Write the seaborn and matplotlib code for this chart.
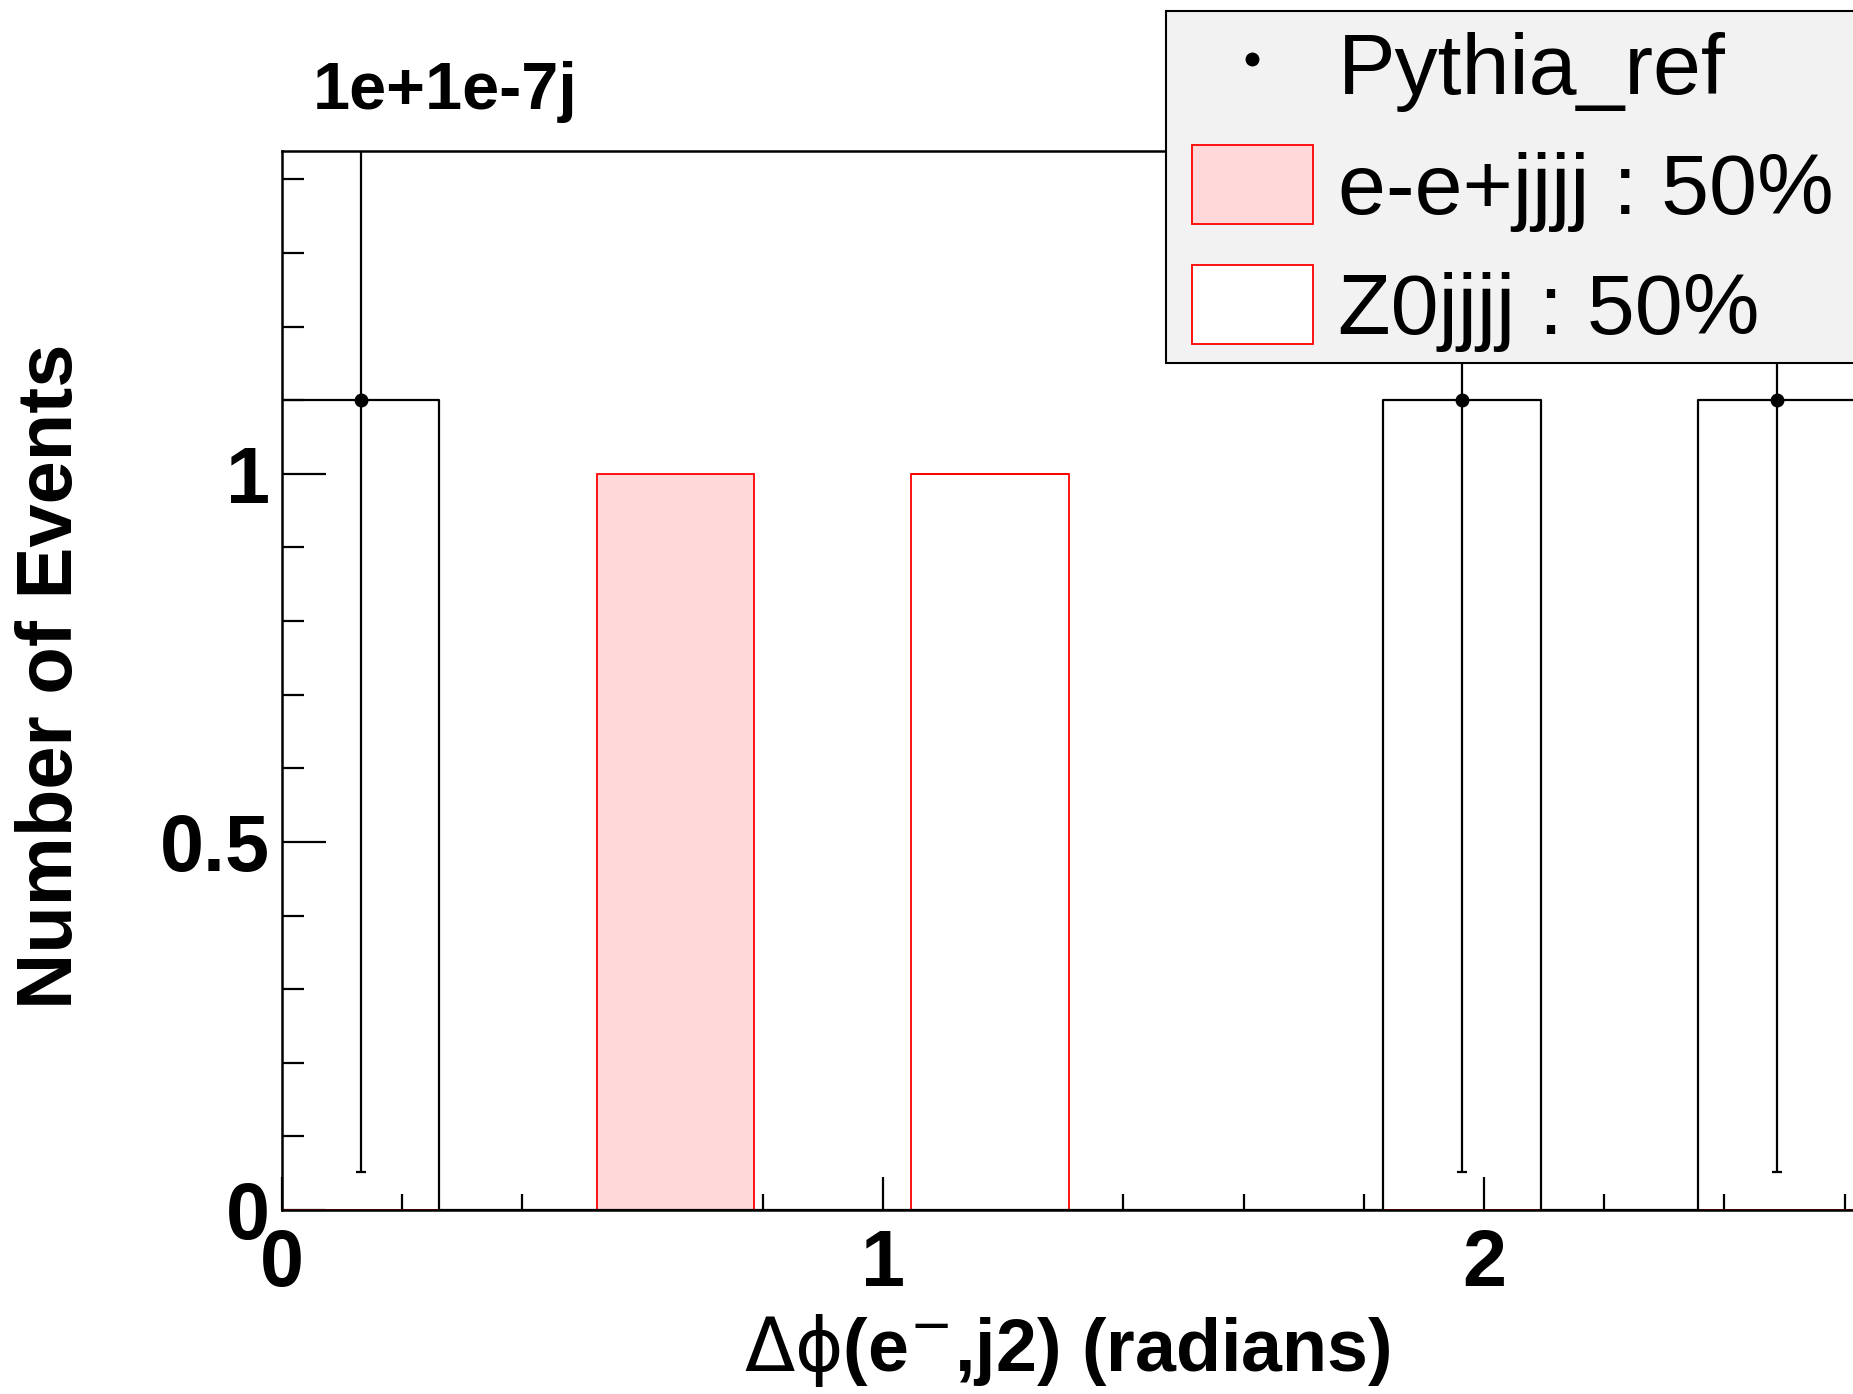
import numpy as np
import pandas as pd
import seaborn as sns
import matplotlib.pyplot as plt
from matplotlib.ticker import FixedLocator, MultipleLocator, FuncFormatter
from matplotlib.patches import Patch, Rectangle
from matplotlib.lines import Line2D

# Histogram definition: 12 bins over [0, pi]
n_bins = 12
x_min, x_max = 0.0, np.pi

# Bin contents
pythia_ref = [1.1, 0, 0, 0, 0, 0, 0, 1.1, 0, 1.1, 0, 0]
ee_jjjj = [0, 0, 1.0, 0, 0, 0, 0, 0, 0, 0, 0, 0]
z0_jjjj = [0, 0, 0, 0, 1.0, 0, 0, 0, 0, 0, 0, 0]
samples = ["e-e+jjjj", "Z0jjjj"]
legend_labels = ["Pythia_ref", "e-e+jjjj : 50%", "Z0jjjj : 50%"]
fill_colors = ["#ffd8d9", "#ffffff"]
x_major_ticks = [0, 1, 2]  # "3" falls outside the canvas

bin_width = (x_max - x_min) / n_bins
edges = np.linspace(x_min, x_max, n_bins + 1)
centers = 0.5 * (edges[:-1] + edges[1:])
pythia_arr = np.array(pythia_ref)
has_data = pythia_arr > 0

stack_df = pd.DataFrame({
    "phi": np.concatenate([centers, centers]),
    "events": ee_jjjj + z0_jjjj,
    "sample": [samples[0]] * n_bins + [samples[1]] * n_bins,
})
ref_df = pd.DataFrame({"phi": centers, "events": pythia_ref})

sns.set_style("ticks")
plt.rcParams["font.family"] = ["Liberation Sans", "DejaVu Sans"]
plt.rcParams["mathtext.fontset"] = "dejavusans"
plt.rcParams["text.color"] = "black"
plt.rcParams["xtick.color"] = "black"
plt.rcParams["ytick.color"] = "black"
plt.rcParams["axes.labelcolor"] = "black"

W, H = 1853, 1394
fig = plt.figure(figsize=(W / 100, H / 100), dpi=100)
# frame runs past the right edge of the canvas, like the original
ax = fig.add_axes([282 / W, 1 - 1210 / H, 1888 / W, 1059 / H])

# stacked MC samples
sns.histplot(data=stack_df, x="phi", weights="events", hue="sample",
             hue_order=samples, multiple="stack", binwidth=bin_width,
             binrange=(x_min, x_max), element="bars",
             palette=dict(zip(samples, fill_colors)), edgecolor="red",
             linewidth=1.3, alpha=1, legend=False, ax=ax)

# reference as outline + points with errors
sns.histplot(data=ref_df, x="phi", weights="events", binwidth=bin_width,
             binrange=(x_min, x_max), element="step", fill=False,
             color="black", linewidth=1.6, ax=ax)
ax.errorbar(centers[has_data], pythia_arr[has_data],
            yerr=np.sqrt(pythia_arr[has_data]), fmt="o", color="black",
            markersize=9, elinewidth=1.6, capsize=3.5, capthick=1.6, zorder=5)

ax.set_xlim(x_min, x_max)
ax.set_ylim(0, 1.4385)
ax.set_xlabel("")
ax.set_ylabel("")

ax.xaxis.set_major_locator(FixedLocator(x_major_ticks))
ax.xaxis.set_minor_locator(MultipleLocator(0.2))
ax.yaxis.set_major_locator(MultipleLocator(0.5))
ax.yaxis.set_minor_locator(MultipleLocator(0.1))
fmt = FuncFormatter(lambda v, p: f"{v:g}")
ax.xaxis.set_major_formatter(fmt)
ax.yaxis.set_major_formatter(fmt)

ax.tick_params(which="both", direction="in", top=False, right=False,
               color="black", labelcolor="black", width=1.6)
ax.tick_params(axis="x", which="major", length=24, pad=13, labelsize=57)
ax.tick_params(axis="x", which="minor", length=11.5)
ax.tick_params(axis="y", which="major", length=31.7, pad=8.6, labelsize=57)
ax.tick_params(axis="y", which="minor", length=15.8)
for lbl in ax.get_xticklabels() + ax.get_yticklabels():
    lbl.set_fontweight("bold")

for sp in ax.spines.values():
    sp.set_color("black")
    sp.set_linewidth(1.8)
    sp.set_zorder(10)

# legend box (runs off the right edge like the original pave)
fig.patches.append(Rectangle((1166 / W, 1 - 363 / H), 800 / W, 352 / H,
                             transform=fig.transFigure, facecolor="#f2f2f2",
                             edgecolor="black", linewidth=1.5, zorder=3))
handles = [
    Line2D([], [], marker="o", color="black", linestyle="none", markersize=9),
    Patch(facecolor=fill_colors[0], edgecolor="red", linewidth=1.3),
    Patch(facecolor=fill_colors[1], edgecolor="red", linewidth=1.3),
]
leg = fig.legend(handles, legend_labels, loc="upper left",
                 bbox_to_anchor=(1192 / W, 1 - 24.5 / H),
                 bbox_transform=fig.transFigure, fontsize=62, frameon=False,
                 borderpad=0, labelspacing=0.38, handlelength=1.4,
                 handleheight=1.05, handletextpad=0.29, borderaxespad=0)
leg.set_zorder(5)

fig.text(1067 / W, 1 - 1371 / H,
         r"$\mathrm{\Delta\phi}$(e$^{-}$,j2) (radians)",
         ha="center", va="baseline", fontsize=53, fontweight="bold")
fig.text(52 / W, 1 - 676 / H, "Number of Events", rotation=90,
         ha="center", va="center", fontsize=56, fontweight="bold")
fig.text(313 / W, 1 - 109 / H, "1e+1e-7j", ha="left", va="baseline",
         fontsize=48, fontweight="bold")

fig.savefig("out.png", dpi=100)
